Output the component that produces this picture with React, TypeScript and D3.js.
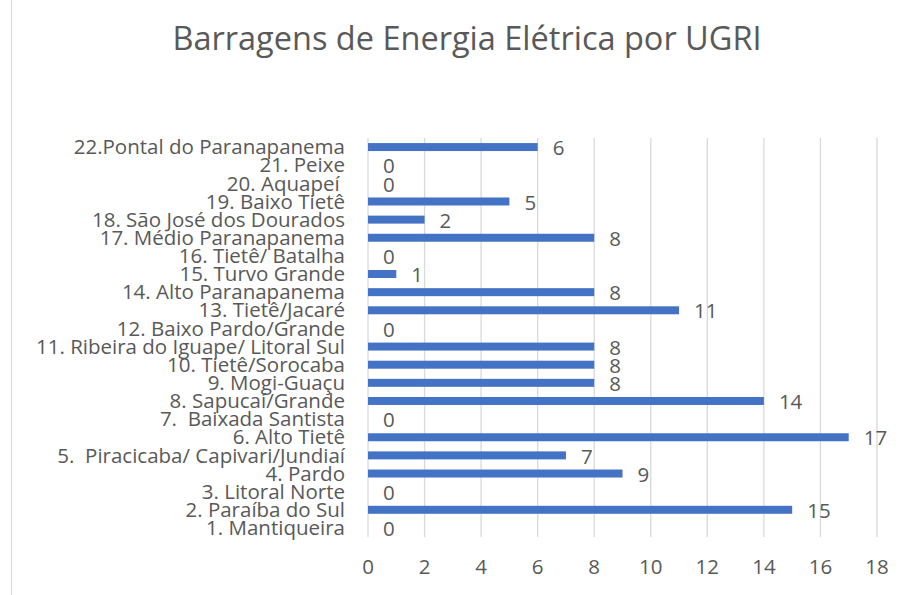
import React, { useEffect, useRef } from "react";
import * as d3 from "d3";

const categories = [
  "1. Mantiqueira",
  "2. Paraíba do Sul",
  "3. Litoral Norte",
  "4. Pardo",
  "5.  Piracicaba/ Capivari/Jundiaí",
  "6. Alto Tietê",
  "7.  Baixada Santista",
  "8. Sapucaí/Grande",
  "9. Mogi-Guaçu",
  "10. Tietê/Sorocaba",
  "11. Ribeira do Iguape/ Litoral Sul",
  "12. Baixo Pardo/Grande",
  "13. Tietê/Jacaré",
  "14. Alto Paranapanema",
  "15. Turvo Grande",
  "16. Tietê/ Batalha",
  "17. Médio Paranapanema",
  "18. São José dos Dourados",
  "19. Baixo Tietê",
  "20. Aquapeí ",
  "21. Peixe",
  "22.Pontal do Paranapanema",
];

const values = [0, 15, 0, 9, 7, 17, 0, 14, 8, 8, 8, 0, 11, 8, 1, 0, 8, 2, 5, 0, 0, 6];

const xTicks = [0, 2, 4, 6, 8, 10, 12, 14, 16, 18];

const title = "Barragens de Energia Elétrica por UGRI";

const width = 905;
const height = 595;
const marginLeft = 368;
const marginRight = 28;
const marginTop = 138;
const marginBottom = 58;
const textColor = "#595959";
const font = "'Open Sans', sans-serif";
const labelSize = 20.5;

export default function App() {
  const svgRef = useRef<SVGSVGElement>(null);

  useEffect(() => {
    const svg = d3.select(svgRef.current);
    svg.selectAll("*").remove();

    const data = categories.map((c, i) => ({ c, v: values[i] }));

    const x = d3
      .scaleLinear()
      .domain([0, 18])
      .range([marginLeft, width - marginRight]);

    // first category at the bottom
    const y = d3
      .scaleBand()
      .domain(categories.slice().reverse())
      .range([marginTop, height - marginBottom])
      .paddingInner(0.56)
      .paddingOuter(0.28);

    svg
      .append("rect")
      .attr("x", 11.5)
      .attr("y", -2)
      .attr("width", width)
      .attr("height", height + 4)
      .attr("fill", "#fff")
      .attr("stroke", "#d9d9d9");

    svg
      .append("text")
      .attr("x", 467)
      .attr("y", 50)
      .attr("text-anchor", "middle")
      .attr("fill", textColor)
      .attr("font-family", font)
      .attr("font-size", 32.5)
      .text(title);

    // gridlines
    svg
      .append("g")
      .selectAll("line")
      .data(xTicks)
      .join("line")
      .attr("x1", (d) => x(d))
      .attr("x2", (d) => x(d))
      .attr("y1", marginTop)
      .attr("y2", height - marginBottom)
      .attr("stroke", "#d9d9d9")
      .attr("stroke-width", 1.3);

    // x tick labels
    svg
      .append("g")
      .selectAll("text")
      .data(xTicks)
      .join("text")
      .attr("x", (d) => x(d))
      .attr("y", 567)
      .attr("dy", "0.35em")
      .attr("text-anchor", "middle")
      .attr("fill", textColor)
      .attr("font-family", font)
      .attr("font-size", labelSize)
      .text((d) => d);

    // category labels
    svg
      .append("g")
      .selectAll("text")
      .data(data)
      .join("text")
      .attr("x", 345)
      .attr("y", (d) => y(d.c)! + y.bandwidth() / 2)
      .attr("dy", "0.35em")
      .attr("text-anchor", "end")
      .attr("fill", textColor)
      .attr("font-family", font)
      .attr("font-size", labelSize)
      .style("white-space", "pre")
      .text((d) => d.c);

    // bars
    svg
      .append("g")
      .selectAll("rect")
      .data(data.filter((d) => d.v > 0))
      .join("rect")
      .attr("x", x(0))
      .attr("y", (d) => y(d.c)!)
      .attr("width", (d) => x(d.v) - x(0))
      .attr("height", y.bandwidth())
      .attr("fill", "#4472c4");

    // value labels
    svg
      .append("g")
      .selectAll("text")
      .data(data)
      .join("text")
      .attr("x", (d) => x(d.v) + 15)
      .attr("y", (d) => y(d.c)! + y.bandwidth() / 2 + 1)
      .attr("dy", "0.35em")
      .attr("fill", textColor)
      .attr("font-family", font)
      .attr("font-size", labelSize)
      .text((d) => d.v);
  }, []);

  return (
    <div style={{ position: "absolute", left: 0, top: 0 }}>
      <svg ref={svgRef} width={width} height={height} style={{ display: "block" }} />
    </div>
  );
}
